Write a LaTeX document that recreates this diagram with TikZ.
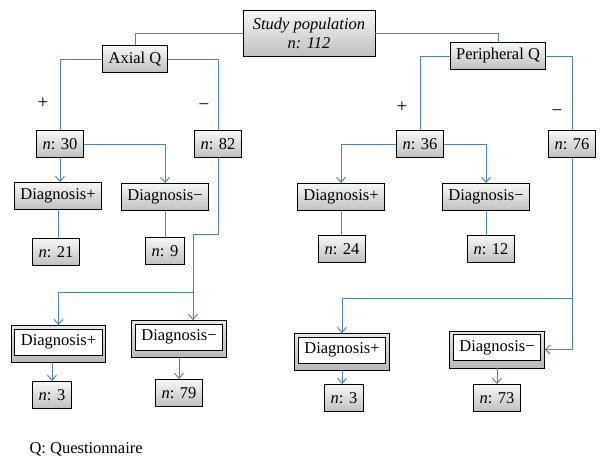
\documentclass[tikz,border=0pt]{standalone}
\usepackage{fontspec}
\setmainfont{Liberation Serif}
\usepackage{tikz}
\usetikzlibrary{arrows.meta,fit,backgrounds,calc}
\definecolor{linkblue}{RGB}{79,129,189}

\begin{document}
\begin{tikzpicture}[
x=1pt, y=-1pt,
box/.style={draw, line width=0.9pt, top color=gray!6, bottom color=gray!50, font=\fontsize{16.5}{18}\selectfont, inner xsep=6pt, minimum height=27pt},
dbox/.style={draw, line width=0.9pt, fill=white, font=\fontsize{16.5}{18}\selectfont, inner xsep=6pt, minimum height=26pt},
frame/.style={draw, line width=0.9pt, top color=gray!20, bottom color=gray!55, inner sep=3pt},
sign/.style={font=\fontsize{19}{19}\selectfont},
link/.style={linkblue, line width=1pt},
arrow/.style={link, -{Straight Barb[length=5pt,width=9pt]}}
]

\useasboundingbox (0,0) rectangle (608,469);

\node[box, align=center, font=\fontsize{16.5}{19}\selectfont\itshape, minimum width=132pt, minimum height=46pt] (S) at (309,33) {Study population\\n: 112};

\node[box] (AQ) at (135,59) {Axial Q};

\node[box] (PQ) at (498,56) {Peripheral Q};

\node[box] (A30) at (60,144) {\textit{n}: 30};

\node[box] (A82) at (218,144) {\textit{n}: 82};

\node[box] (P36) at (420,144) {\textit{n}: 36};

\node[box] (P76) at (572,144) {\textit{n}: 76};

\node[box] (ADp) at (58,196) {Diagnosis+};

\node[box] (ADm) at (165,197) {Diagnosis−};

\node[box] (PDp) at (341,197) {Diagnosis+};

\node[box] (PDm) at (486,197) {Diagnosis−};

\node[box] (A21) at (56,252) {\textit{n}: 21};

\node[box] (A9) at (165,251) {\textit{n}: 9};

\node[box] (P24) at (342,249) {\textit{n}: 24};

\node[box] (P12) at (491,249) {\textit{n}: 12};

\node[dbox] (ADp2) at (58.5,342) {Diagnosis+};

\node[dbox] (ADm2) at (179,337) {Diagnosis−};

\node[dbox] (PDp2) at (342,350) {Diagnosis+};

\node[dbox] (PDm2) at (497,347.5) {Diagnosis−};

\begin{scope}[on background layer]
\foreach \b in {ADp2,ADm2,PDp2,PDm2}
  \node[frame, fit={(\b.north west) ($(\b.south east)+(0,4)$)}] (\b F) {};
\end{scope}

\node[box] (A3) at (52,395) {\textit{n}: 3};

\node[box] (A79) at (179,393) {\textit{n}: 79};

\node[box] (P3) at (344,398) {\textit{n}: 3};

\node[box] (P73) at (497,398) {\textit{n}: 73};

\node[sign] (s1) at (43,103) {+};

\node[sign] (s2) at (204,107) {−};

\node[sign] (s3) at (402,107) {+};

\node[sign] (s4) at (557,113) {−};

\node[anchor=west, font=\fontsize{16.5}{18}\selectfont] (Q) at (26,449) {Q: Questionnaire};

\coordinate (AK) at (193,234);

\coordinate (AJ) at (193,292);

\coordinate (PJ) at (572,298);

\draw[link] (S.west) -| (AQ.north);

\draw[link] (S.east) -| (PQ.north);

\draw[link] (AQ.west) -| (A30.north);

\draw[link] (AQ.east) -| (A82.north);

\draw[link] (PQ.west) -| (P36.north);

\draw[link] (PQ.east) -| (P76.north);

\draw[arrow] (A30.south) -- (A30.south |- ADp.north);

\draw[arrow] (A30.east) -| (ADm.north);

\draw[arrow] (P36.west) -| (PDp.north);

\draw[arrow] (P36.east) -| (PDm.north);

\draw[link] (ADp.south) -- (ADp.south |- A21.north);

\draw[link] (ADm.south) -- (A9.north);

\draw[link] (PDp.south) -- (PDp.south |- P24.north);

\draw[link] (PDm.south) -- (PDm.south |- P12.north);

\draw[link] (A82.south) |- (AK) -- (AJ);

\draw[arrow] (AJ) -- (AJ |- ADm2F.north);

\draw[arrow] (AJ) -| (ADp2F.north);

\draw[arrow] (P76.south) |- (PDm2F.east);

\draw[arrow] (PJ) -| (PDp2F.north);

\draw[arrow] (A3.north |- ADp2F.south) -- (A3.north);

\draw[arrow] (ADm2F.south) -- (ADm2F.south |- A79.north);

\draw[arrow] (PDp2F.south) -- (PDp2F.south |- P3.north);

\draw[arrow] (P73.north |- PDm2F.south) -- (P73.north);

\end{tikzpicture}
\end{document}
